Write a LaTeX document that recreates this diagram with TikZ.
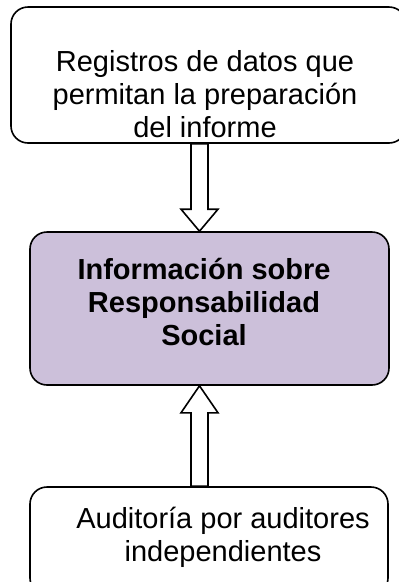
\documentclass[tikz,border=0pt]{standalone}
\usepackage{fontspec}
\setmainfont{Liberation Sans}
\usetikzlibrary{calc,positioning}
\definecolor{lila}{RGB}{204,192,218}

% flecha hueca de bloque: desde #1 hasta #2, largo de la punta #3
\newcommand{\flechahueca}[3]{%
	\coordinate (fh) at ($(#2)!#3!(#1)$);
	\draw[flecha] ($(#1)!8.5pt!90:(#2)$) -- ($(fh)!8.5pt!-90:(#1)$) -- ($(fh)!18.5pt!-90:(#1)$) -- (#2)
		-- ($(fh)!18.5pt!90:(#1)$) -- ($(fh)!8.5pt!90:(#1)$) -- ($(#1)!8.5pt!-90:(#2)$) -- cycle;}

\begin{document}
\begin{tikzpicture}[x=1pt,y=-1pt,
	caja/.style={draw,line width=1.6pt,rounded corners=17pt,inner sep=0pt},
	texto/.style={align=center,font=\fontsize{29}{33}\selectfont},
	flecha/.style={draw,line width=1.6pt,fill=white,line join=miter}]
	\useasboundingbox (0,0) rectangle (399,582);
	\clip (0,0) rectangle (399,582);
	% cajas
	\node[caja,minimum width=395pt,minimum height=136pt] (registros) at (208.5,75) {};
	\node[caja,fill=lila,minimum width=359pt,minimum height=153pt] (info) at (209.5,308.5) {};
	\node[caja,minimum width=358pt,minimum height=108pt] (auditoria) at (209,541) {};
	% textos
	\node[texto] (tregistros) at (205,94) {Registros de datos que\\permitan la preparación\\del informe};
	\node[texto,font=\fontsize{29}{33}\selectfont\bfseries] (tinfo) at (204,302) {Información sobre\\Responsabilidad\\Social};
	\node[texto] (tauditoria) at (223,537) {Auditoría por auditores\\independientes};
	% flechas
	\coordinate (eje) at (199.5,0);
	\coordinate (a1) at (registros.south -| eje);
	\coordinate (b1) at (info.north -| eje);
	\coordinate (a2) at (auditoria.north -| eje);
	\coordinate (b2) at (info.south -| eje);
	\flechahueca{a1}{b1}{22pt}
	\flechahueca{a2}{b2}{27pt}
\end{tikzpicture}
\end{document}
